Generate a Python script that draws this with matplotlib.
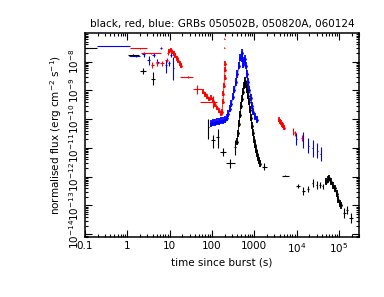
import matplotlib
matplotlib.use('Agg')
import matplotlib.pyplot as plt
import numpy as np
from matplotlib.ticker import FixedLocator, LogLocator, NullFormatter, FixedFormatter

# GRB 050502B (black) - single points with error boxes
blk_t   = [0.08, 1.4, 2.4, 4.1, 82, 108, 137, 180, 268, 352, 1733, 5350, 10700, 14500, 19000, 24100, 30000, 35900, 41600, 133000, 159000, 194000]
blk_tlo = [0.03, 1.05, 2.06, 3.7, 79, 97, 124, 152, 212, 340, 1500, 4470, 9600, 13500, 18000, 23300, 29000, 34500, 40000, 123000, 150000, 176000]
blk_thi = [0.19, 1.9, 2.77, 4.6, 85, 120, 150, 212, 352, 365, 2000, 6760, 11900, 15600, 20000, 24900, 31000, 37300, 43200, 144000, 168000, 214000]
blk_f   = [3.1e-8, 1.7e-8, 4.75e-9, 2.6e-9, 5.5e-11, 1.9e-11, 2.5e-11, 7.1e-12, 2.9e-12, 1.12e-11, 2.26e-12, 1.1e-12, 4.8e-13, 3.1e-13, 3.7e-13, 5.9e-13, 5.2e-13, 5.2e-13, 4.6e-13, 5.4e-14, 7.1e-14, 3.6e-14]
blk_flo = [3.0e-8, 1.6e-8, 3.8e-9, 1.5e-9, 2.1e-11, 9.8e-12, 9.8e-12, 5.1e-12, 1.95e-12, 5.8e-12, 1.65e-12, 1.05e-12, 4.1e-13, 2.25e-13, 2.9e-13, 4.3e-13, 3.8e-13, 4.1e-13, 3.6e-13, 3.6e-14, 5.2e-14, 2.4e-14]
blk_fhi = [3.2e-8, 1.8e-8, 5.9e-9, 4.4e-9, 9.8e-11, 2.85e-11, 4.4e-11, 9.8e-12, 4.3e-12, 1.96e-11, 3.1e-12, 1.15e-12, 5.6e-13, 4.3e-13, 4.7e-13, 8.1e-13, 7.2e-13, 6.6e-13, 5.8e-13, 8.0e-14, 9.7e-14, 5.4e-14]
# densely sampled parts
blk_flare_t = [392, 414, 437, 462, 488, 515, 543, 574, 606, 640, 676, 713, 753, 796, 840, 887, 937, 989, 1045, 1103, 1165, 1230, 1298, 1371]
blk_flare_f = [1.67e-11, 3.2e-11, 7.0e-11, 1.44e-10, 2.96e-10, 5.2e-10, 9.1e-10, 1.47e-9, 2.19e-9, 1.6e-9, 1.07e-9, 6.6e-10,
               4.1e-10, 2.15e-10, 1.14e-10, 6.0e-11, 3.4e-11, 1.96e-11, 1.31e-11, 8.8e-12, 6.4e-12, 4.6e-12, 3.65e-12, 2.87e-12]
blk_late_t = [49800, 55500, 59600, 65400, 72900, 81300, 88300, 95800, 104000, 113000]
blk_late_f = [6.8e-13, 8.0e-13, 8.9e-13, 6.8e-13, 4.9e-13, 3.9e-13, 2.6e-13, 1.6e-13, 1.17e-13, 1.0e-13]
blk_dense_err = 0.3

# GRB 050820A (red)
red_t   = [2.0, 3.6, 3.9, 5.1, 6.7, 8.5, 9.3, 27.2, 43.7, 106, 198, 198, 8400, 9220, 13300]
red_tlo = [1.16, 2.1, 3.6, 4.7, 6.1, 8.0, 8.9, 17.6, 35.7, 52.4, 194, 194, 8100, 8900, 12900]
red_thi = [2.92, 6.2, 4.3, 5.6, 7.3, 9.0, 9.8, 35.7, 58.4, 132, 202, 202, 8700, 9550, 13700]
red_f   = [2.9e-8, 1.94e-8, 7.7e-9, 8.7e-9, 8.7e-9, 1.15e-8, 1.94e-8, 3.0e-9, 1.13e-9, 4.1e-10, 3.06e-8, 6.4e-8, 3.7e-11, 3.2e-11, 2.17e-11]
red_flo = [2.8e-8, 1.85e-8, 6.1e-9, 7.0e-9, 7.0e-9, 1.0e-8, 1.75e-8, 2.7e-9, 7.7e-10, 2.5e-10, 2.9e-8, 6.1e-8, 2.8e-11, 2.6e-11, 1.7e-11]
red_fhi = [3.0e-8, 2.05e-8, 9.6e-9, 1.08e-8, 1.08e-8, 1.32e-8, 2.15e-8, 3.3e-9, 1.6e-9, 6.6e-10, 3.2e-8, 6.7e-8, 4.9e-11, 4.0e-11, 2.8e-11]
red_decay1_t = [9.95, 10.8, 11.7, 12.7, 13.8, 15.0, 16.2, 17.6, 18.6]
red_decay1_f = [2.4e-8, 2.6e-8, 2.2e-8, 1.9e-8, 1.62e-8, 1.32e-8, 1.08e-8, 8.5e-9, 7.3e-9]
red_decay2_t = [61.6, 68.7, 76.6, 85.3, 95.3, 106, 118, 132, 147, 164, 173, 183, 188, 193, 199, 204, 210]
red_decay2_f = [9.1e-10, 7.4e-10, 6.1e-10, 5.0e-10, 5.6e-10, 4.4e-10, 3.2e-10, 2.5e-10, 2.0e-10, 1.56e-10,
                1.84e-10, 4.1e-10, 7.7e-10, 1.47e-9, 2.8e-9, 5.3e-9, 8.5e-9]
red_late_t = [3850, 4070, 4300, 4540, 4800, 5060]
red_late_f = [9.7e-11, 8.3e-11, 7.6e-11, 6.5e-11, 6.0e-11, 5.1e-11]
red_dense_err = 0.2

# GRB 060124 (blue)
blu_t   = [0.67, 1.6, 2.48, 3.26, 4.28, 5.12, 6.16, 8.09, 9.68, 10.97, 12.2, 9890, 13900, 19000, 23900, 31300, 37500]
blu_tlo = [0.19, 1.1, 2.25, 3.0, 3.95, 4.8, 5.8, 7.7, 9.3, 10.5, 11.9, 9700, 13600, 18600, 23400, 30700, 36800]
blu_thi = [1.16, 2.0, 2.7, 3.5, 4.6, 5.5, 6.5, 8.5, 10.1, 11.5, 12.5, 10100, 14200, 19400, 24400, 31900, 38200]
blu_f   = [3.5e-8, 1.6e-8, 1.79e-8, 1.15e-8, 1.71e-8, 9.5e-9, 3.06e-8, 7.7e-9, 8.7e-9, 1.71e-8, 5.9e-9,
           2.04e-11, 1.91e-11, 1.19e-11, 9.9e-12, 8.0e-12, 6.1e-12]
blu_flo = [3.4e-8, 1.5e-8, 1.5e-8, 8.0e-9, 1.45e-8, 7.5e-9, 2.8e-8, 3.9e-9, 7.0e-9, 1.5e-8, 2.4e-9,
           1.28e-11, 9.8e-12, 6.5e-12, 5.0e-12, 4.4e-12, 3.4e-12]
blu_fhi = [3.6e-8, 1.7e-8, 2.1e-8, 1.6e-8, 2.0e-8, 1.2e-8, 3.35e-8, 1.15e-8, 1.08e-8, 1.95e-8, 1.49e-8,
           3.2e-11, 3.7e-11, 2.17e-11, 1.96e-11, 1.46e-11, 1.12e-11]
blu_flare_t = [95.3, 106, 118, 132, 147, 164, 183, 204, 228, 247, 268, 290, 315, 342, 371, 403,
               437, 475, 506, 529, 552, 580, 606, 640, 676, 726, 775, 827, 887, 952, 1045, 1146]
blu_flare_f = [7.0e-11, 7.6e-11, 7.6e-11, 8.3e-11, 8.3e-11, 8.9e-11, 8.9e-11, 9.7e-11, 1.14e-10, 1.56e-10, 2.33e-10, 3.5e-10,
               6.1e-10, 1.07e-9, 2.0e-9, 3.8e-9, 7.3e-9, 1.38e-8, 2.05e-8, 1.27e-8, 7.9e-9, 1.08e-8, 1.27e-8, 7.3e-9,
               3.8e-9, 2.0e-9, 1.07e-9, 5.6e-10, 3.0e-10, 1.84e-10, 1.23e-10, 9.7e-11]
blu_dense_err = 0.35

xticks = [0.1, 1, 10, 100, 1000, 1e4, 1e5]
xticklabels = ['0.1', '1', '10', '100', '1000', '$10^4$', '$10^5$']
yticks = [1e-14, 1e-13, 1e-12, 1e-11, 1e-10, 1e-9, 1e-8]
yticklabels = ['$10^{-14}$', '$10^{-13}$', '$10^{-12}$', '$10^{-11}$', '$10^{-10}$', '$10^{-9}$', '$10^{-8}$']

plt.rcParams['mathtext.default'] = 'regular'
plt.rcParams['font.size'] = 7

fig = plt.figure(figsize=(3.84, 2.97), dpi=100)
ax = fig.add_axes([0.221, 0.202, 0.714, 0.687])


def points(t, tlo, thi, f, flo, fhi, c):
    t = np.array(t); f = np.array(f)
    xe = [t - np.array(tlo), np.array(thi) - t]
    ye = [f - np.array(flo), np.array(fhi) - f]
    ax.errorbar(t, f, xerr=xe, yerr=ye, fmt='none', ecolor=c, elinewidth=0.8, capsize=0)


def dense(t, f, err, c):
    f = np.array(f)
    ax.errorbar(t, f, yerr=[f * err / (1 + err), f * err], fmt='o', ms=2.0, mew=0,
                color=c, ecolor=c, elinewidth=1.3, capsize=0)
    ax.plot(t, f, color=c, lw=0.6)


dense(blu_flare_t, blu_flare_f, blu_dense_err, 'blue')
points(blu_t, blu_tlo, blu_thi, blu_f, blu_flo, blu_fhi, 'blue')

points(red_t, red_tlo, red_thi, red_f, red_flo, red_fhi, 'red')
dense(red_decay1_t, red_decay1_f, red_dense_err, 'red')
dense(red_decay2_t, red_decay2_f, red_dense_err, 'red')
dense(red_late_t, red_late_f, red_dense_err, 'red')

points(blk_t, blk_tlo, blk_thi, blk_f, blk_flo, blk_fhi, 'black')
dense(blk_flare_t, blk_flare_f, blk_dense_err, 'black')
dense(blk_late_t, blk_late_f, blk_dense_err, 'black')

ax.set_xscale('log')
ax.set_yscale('log')
ax.set_xlim(0.1, 3e5)
ax.set_ylim(8e-15, 1e-7)

ax.xaxis.set_major_locator(FixedLocator(xticks))
ax.xaxis.set_major_formatter(FixedFormatter(xticklabels))
ax.xaxis.set_minor_locator(LogLocator(base=10, subs=np.arange(2, 10), numticks=20))
ax.xaxis.set_minor_formatter(NullFormatter())
ax.yaxis.set_major_locator(FixedLocator(yticks))
ax.yaxis.set_major_formatter(FixedFormatter(yticklabels))
ax.yaxis.set_minor_locator(LogLocator(base=10, subs=np.arange(2, 10), numticks=20))
ax.yaxis.set_minor_formatter(NullFormatter())

ax.tick_params(which='both', direction='in', top=True, right=True, width=0.8)
ax.tick_params(which='major', length=5, labelsize=7.5, pad=3)
ax.tick_params(which='minor', length=2.5)
for lab in ax.get_yticklabels():
    lab.set_rotation(90)
    lab.set_va('center')
for s in ax.spines.values():
    s.set_linewidth(1.1)

ax.set_title('black, red, blue: GRBs 050502B, 050820A, 060124', fontsize=7.5, pad=4)
ax.set_xlabel('time since burst (s)', fontsize=7.5, labelpad=2)
ax.set_ylabel('normalised flux (erg cm$^{-2}$ s$^{-1}$)', fontsize=7.5, labelpad=2)

fig.savefig('out.png', dpi=100)
